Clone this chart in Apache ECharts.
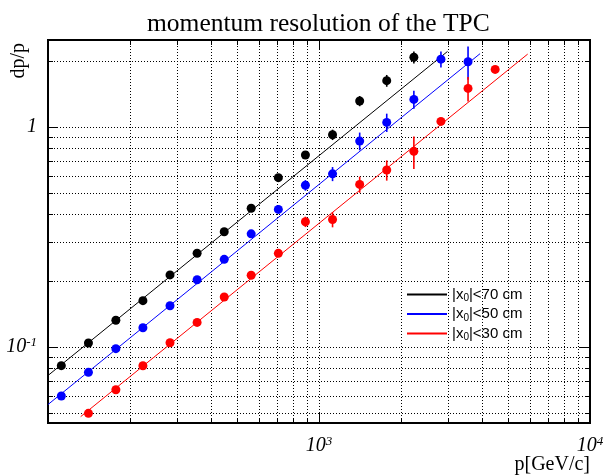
<!DOCTYPE html>
<html><head><meta charset="utf-8">
<script src="https://cdn.jsdelivr.net/npm/echarts@6/dist/echarts.min.js"></script>
<style>html,body{margin:0;padding:0;background:#fff}#c{width:603px;height:476px}</style>
</head><body><div id="c"></div>
<script>
// ---- data ----
const momentum = [112, 141, 178, 224, 282, 355, 447, 562, 708, 891, 1122, 1413, 1778, 2239, 2818, 3548, 4467];

const p70 = momentum.slice(0, 14);
const res70 = [0.082, 0.104, 0.132, 0.162, 0.212, 0.266, 0.333, 0.426, 0.587, 0.744, 0.920, 1.31, 1.62, 2.07];
const err70 = [0, 0, 0, 0, 0, 0, 0, 0, 0.02, 0.03, 0.05, 0.07, 0.10, 0.13];

const p50 = momentum.slice(0, 16);
const res50 = [0.0597, 0.0765, 0.098, 0.122, 0.1536, 0.2016, 0.2496, 0.326, 0.421, 0.542, 0.611, 0.861, 1.047, 1.332, 2.03, 1.975];
const err50 = [0, 0, 0, 0, 0, 0, 0, 0, 0, 0.03, 0.045, 0.08, 0.10, 0.125, 0.17, 0.34];

const p30 = momentum.slice(1, 17);
const res30 = [0.0498, 0.0637, 0.0819, 0.1043, 0.129, 0.1682, 0.2112, 0.2658, 0.370, 0.379, 0.547, 0.636, 0.773, 1.058, 1.494, 1.823];
const err30 = [0, 0, 0, 0, 0, 0, 0, 0, 0.02, 0.03, 0.046, 0.067, 0.13, 0.03, 0.19, 0];

// fitted lines (end points)
const fit70 = [[100, 0.074], [2980, 2.2]];
const fit50 = [[100, 0.0546], [3930, 2.15]];
const fit30 = [[132, 0.0481], [5890, 2.14]];

const legendNames = ['|x0|<70 cm', '|x0|<50 cm', '|x0|<30 cm'];
const colors = ['#000000', '#0000ff', '#ff0000'];

// axis ranges and grid/tick values
const xMin = 100, xMax = 10000;
const yMin = 0.045, yMax = 2.48;
const xGrid = [200, 300, 400, 500, 600, 700, 800, 900, 1000, 2000, 3000, 4000, 5000, 6000, 7000, 8000, 9000];
const xMajor = [1000];
const yGrid = [0.05, 0.06, 0.07, 0.08, 0.09, 0.1, 0.2, 0.3, 0.4, 0.5, 0.6, 0.7, 0.8, 0.9, 1, 2];
const yMajor = [0.1, 1];

// ---- chart ----
const chart = echarts.init(document.getElementById('c'), null, {renderer: 'canvas'});

function powLabel(v) {
  const l = Math.log10(v), e = Math.round(l);
  if (Math.abs(l - e) > 1e-6) return '';
  if (e === 0) return '{b|1}';
  return '{b|10}{sup|' + e + '}';
}
const labelRich = {
  b: {fontFamily: 'Liberation Serif', fontStyle: 'italic', fontSize: 20, lineHeight: 22, color: '#000'},
  sup: {fontFamily: 'Liberation Serif', fontStyle: 'italic', fontSize: 13, lineHeight: 13, verticalAlign: 'top', color: '#000'}
};

function zipXY(xs, ys) { return xs.map((x, i) => [x, ys[i]]); }
function errData(xs, ys, es) {
  const out = [];
  xs.forEach((x, i) => { if (es[i] > 0) out.push([x, ys[i] - es[i], ys[i] + es[i]]); });
  return out;
}
function errSeries(xs, ys, es, color) {
  return {
    type: 'custom', silent: true, z: 3,
    encode: {x: 0, y: [1, 2]},
    data: errData(xs, ys, es),
    renderItem: function (params, api) {
      const a = api.coord([api.value(0), api.value(1)]);
      const b = api.coord([api.value(0), api.value(2)]);
      return {type: 'line', shape: {x1: a[0], y1: a[1], x2: b[0], y2: b[1]},
              style: {stroke: color, lineWidth: 1.6}};
    }
  };
}

const gridSeries = {
  type: 'custom', silent: true, z: 1,
  data: [[1000, 1]],
  renderItem: function (params, api) {
    const cs = params.coordSys;
    const x0 = cs.x, x1 = cs.x + cs.width, y0 = cs.y, y1 = cs.y + cs.height;
    const kids = [];
    const dotted = {stroke: '#000', lineWidth: 1, lineDash: [1, 2]};
    const solid = {stroke: '#000', lineWidth: 1};
    xGrid.forEach(v => {
      const px = Math.round(api.coord([v, 1])[0]) + 0.5;
      const L = xMajor.indexOf(v) >= 0 ? 10 : 5;
      kids.push({type: 'line', shape: {x1: px, y1: y0, x2: px, y2: y1}, style: dotted});
      kids.push({type: 'line', shape: {x1: px, y1: y1, x2: px, y2: y1 - L}, style: solid});
      kids.push({type: 'line', shape: {x1: px, y1: y0, x2: px, y2: y0 + L}, style: solid});
    });
    yGrid.forEach(v => {
      const py = Math.round(api.coord([1000, v])[1]) + 0.5;
      const L = yMajor.indexOf(v) >= 0 ? 10 : 5;
      kids.push({type: 'line', shape: {x1: x0, y1: py, x2: x1, y2: py}, style: dotted});
      kids.push({type: 'line', shape: {x1: x0, y1: py, x2: x0 + L, y2: py}, style: solid});
      kids.push({type: 'line', shape: {x1: x1, y1: py, x2: x1 - L, y2: py}, style: solid});
    });
    return {type: 'group', children: kids};
  }
};

function fitSeries(name, d, color) {
  return {name: name, type: 'line', data: d, symbol: 'none', showSymbol: false, z: 2,
          lineStyle: {color: color, width: 1}, itemStyle: {color: color}, silent: true};
}
function ptSeries(xs, ys, color) {
  return {type: 'scatter', data: zipXY(xs, ys), symbol: 'circle', symbolSize: 9, z: 4,
          itemStyle: {color: color, opacity: 1}, silent: true};
}

const option = {
  animation: false,
  backgroundColor: '#fff',
  title: {
    text: 'momentum resolution of the TPC', left: 142, top: 6,
    textStyle: {fontFamily: 'Liberation Serif', fontWeight: 'normal', fontSize: 25.5, color: '#000'}
  },
  grid: {left: 48, top: 40, right: 13, bottom: 53, show: true, borderColor: '#000', borderWidth: 2,
         backgroundColor: 'transparent', containLabel: false, outerBoundsMode: 'none'},
  legend: {
    orient: 'vertical', left: 407, top: 287, itemWidth: 40, itemHeight: 2, itemGap: 3, padding: 0,
    icon: 'rect',
    data: legendNames,
    formatter: function (n) { const k = n.indexOf('x0'); return '{n|' + n.slice(0, k + 1) + '}{sub|0}{n|' + n.slice(k + 2) + '}'; },
    textStyle: {
      fontFamily: 'Liberation Sans', fontSize: 15, color: '#000',
      rich: {
        n: {fontFamily: 'Liberation Sans', fontSize: 15, lineHeight: 18, color: '#000', verticalAlign: 'middle'},
        sub: {fontFamily: 'Liberation Sans', fontSize: 10, lineHeight: 10, color: '#000', verticalAlign: 'bottom'}
      }
    }
  },
  xAxis: {
    type: 'log', logBase: 10, min: xMin, max: xMax,
    axisLine: {show: false}, axisTick: {show: false}, splitLine: {show: false}, minorTick: {show: false},
    axisLabel: {formatter: powLabel, rich: labelRich, margin: 12, showMinLabel: false, showMaxLabel: true, hideOverlap: false},
    name: 'p[GeV/c]', nameLocation: 'end', nameGap: 0, nameMoveOverlap: false,
    nameTextStyle: {fontFamily: 'Liberation Serif', fontSize: 20, color: '#000', align: 'right', verticalAlign: 'top', padding: [32, 0, 0, 0]}
  },
  yAxis: {
    type: 'log', logBase: 10, min: yMin, max: yMax,
    axisLine: {show: false}, axisTick: {show: false}, splitLine: {show: false}, minorTick: {show: false},
    axisLabel: {formatter: powLabel, rich: labelRich, margin: 11},
    name: 'dp/p', nameLocation: 'end', nameRotate: 90, nameGap: -3, nameMoveOverlap: false,
    nameTextStyle: {fontFamily: 'Liberation Serif', fontSize: 20, color: '#000', align: 'right', verticalAlign: 'bottom', padding: [0, 0, 19, 0]}
  },
  series: [
    gridSeries,
    fitSeries(legendNames[0], fit70, colors[0]),
    fitSeries(legendNames[1], fit50, colors[1]),
    fitSeries(legendNames[2], fit30, colors[2]),
    errSeries(p70, res70, err70, colors[0]),
    errSeries(p50, res50, err50, colors[1]),
    errSeries(p30, res30, err30, colors[2]),
    ptSeries(p70, res70, colors[0]),
    ptSeries(p50, res50, colors[1]),
    ptSeries(p30, res30, colors[2])
  ]
};
chart.setOption(option);
</script>
</body></html>
